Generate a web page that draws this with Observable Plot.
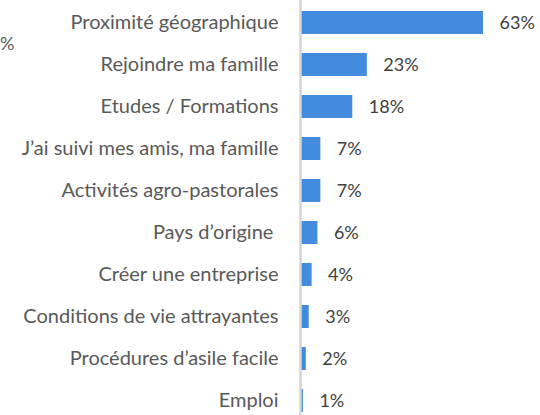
<!DOCTYPE html>
<html>
<head>
<meta charset="utf-8">
<script src="https://cdn.jsdelivr.net/npm/d3@7"></script>
<script src="https://cdn.jsdelivr.net/npm/@observablehq/plot@0.6"></script>
<style>
  html, body { margin: 0; padding: 0; background: #fff; }
  #wrap { position: relative; width: 540px; height: 415px; overflow: hidden; }
  #frag { position: absolute; left: 0px; top: 32px; font-family: Lato, sans-serif; font-size: 18px; color: #595959; }
</style>
</head>
<body>
<div id="wrap"><span id="frag">%</span></div>
<script>
const categories = [
  "Proximité géographique",
  "Rejoindre ma famille",
  "Etudes / Formations",
  "J’ai suivi mes amis, ma famille",
  "Activités agro-pastorales",
  "Pays d’origine ",
  "Créer une entreprise",
  "Conditions de vie attrayantes",
  "Procédures d’asile facile",
  "Emploi"
];
const values = [63, 23, 18, 7, 7, 6, 4, 3, 2, 1];

const data = categories.map((c, i) => ({category: c, value: values[i]}));

const chart = Plot.plot({
  width: 540,
  height: 415,
  marginLeft: 300,
  marginRight: 57,
  marginTop: 0,
  marginBottom: 0,
  style: {fontFamily: "Lato, sans-serif", background: "#fff"},
  x: {domain: [0, 63], axis: null},
  y: {domain: categories, range: [-13.25, 436.2], padding: 0.453, label: null},
  marks: [
    Plot.barX(data, {x: "value", y: "category", fill: "#428bdd"}),
    Plot.ruleX([0], {stroke: "#d4d4d4", strokeWidth: 2.5}),
    Plot.axisY({tickSize: 0, tickPadding: 22, fontSize: 20, fill: "#595959", label: null}),
    Plot.text(data, {x: "value", y: "category", text: d => d.value + "%", textAnchor: "start", dx: 16, fontSize: 18, fill: "#404040"})
  ]
});
document.getElementById("wrap").appendChild(chart);
</script>
</body>
</html>
